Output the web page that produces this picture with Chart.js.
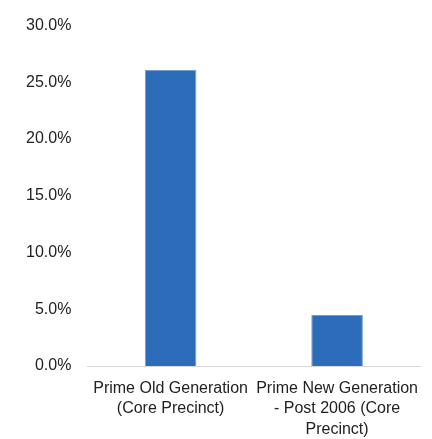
<!DOCTYPE html>
<html>
<head>
<meta charset="utf-8">
<script src="https://cdn.jsdelivr.net/npm/chart.js@4/dist/chart.umd.min.js"></script>
<style>
    html, body { margin: 0; padding: 0; background: #fff; }
    #wrap { width: 432px; height: 439px; position: relative; }
    #info { position: absolute; left: 230px; top: 20px; font: 11px monospace; visibility: hidden; white-space: pre; }
</style>
</head>
<body>
<div id="wrap"><canvas id="barChart"></canvas><div id="info"></div></div>
<script>
// categories (multi-line labels) and values in percent
const categories = [
    ['Prime Old Generation', '(Core Precinct)'],
    ['Prime New Generation', '- Post 2006 (Core', 'Precinct)']
];
const values = [26.1, 4.5];
const yTicks = [0, 5, 10, 15, 20, 25, 30];

const ctx = document.getElementById('barChart').getContext('2d');
let fitCalls = 0;

const chart = new Chart(ctx, {
    type: 'bar',
    data: {
        labels: categories,
        datasets: [
            {
                data: values,
                backgroundColor: '#2d6cb8',
                borderColor: '#6f9bd4',
                borderWidth: 1,
                barPercentage: 0.62,
                categoryPercentage: 0.5
            }
        ]
    },
    options: {
        responsive: true,
        maintainAspectRatio: false,
        animation: false,
        layout: { padding: { top: 16, right: 8, bottom: 0, left: 10 } },
        plugins: {
            legend: { display: false },
            tooltip: { enabled: false }
        },
        scales: {
            x: {
                grid: { display: false, drawTicks: false },
                border: { display: true, color: '#d9d9d9', width: 1 },
                afterFit: s => { fitCalls++; s.height = 73; },
                ticks: {
                    color: '#222',
                    font: { family: 'Liberation Sans', size: 16, lineHeight: 1.28 },
                    maxRotation: 0,
                    autoSkip: false,
                    padding: 12
                }
            },
            y: {
                min: yTicks[0],
                max: yTicks[yTicks.length - 1],
                afterBuildTicks: axis => { axis.ticks = yTicks.map(v => ({ value: v })); },
                grid: { display: false, drawTicks: false },
                border: { display: false },
                ticks: {
                    color: '#222',
                    font: { family: 'Liberation Sans', size: 16 },
                    padding: 16,
                    callback: v => v.toFixed(1) + '%'
                }
            }
        }
    }
});
const a = chart.chartArea;
document.getElementById('info').textContent =
    'area ' + [a.left, a.top, a.right, a.bottom].map(Math.round).join(',') + ' fits ' + fitCalls;
</script>
</body>
</html>
